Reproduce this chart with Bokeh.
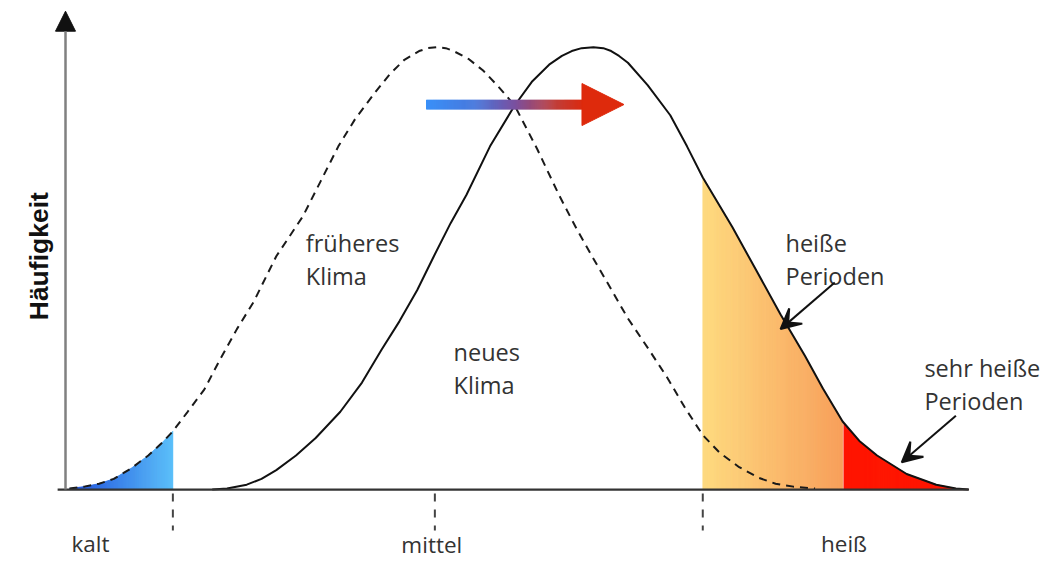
import numpy as np
from bokeh.plotting import figure
from bokeh.models import Range1d, Arrow, NormalHead, VeeHead, ColumnDataSource
from bokeh.core.properties import value
from bokeh.embed import file_html
from bokeh.resources import INLINE

# ---------------- data ----------------
# previous climate (dashed curve): temperature position -> frequency
old_x = [70, 85, 100, 115, 133, 150, 165, 175, 190, 207, 223, 240, 257, 280, 307, 325,
         343, 360, 380, 395, 410, 425, 434, 443, 452, 460, 475, 490, 505, 522, 545, 567, 585,
         600, 620, 637, 657, 677, 695, 713, 730, 750, 770, 787, 805, 827]
old_y = [1, 3, 6, 11, 22, 35, 49, 60, 80, 103, 134, 165, 193, 240, 281, 317,
         353, 381, 408, 427, 442, 451, 454, 455, 454, 451, 443, 431, 415, 395, 350, 303, 268,
         241, 206, 176, 146, 115, 84, 56, 38, 23, 12, 6, 3, 1]

# new climate (solid curve)
new_x = [215, 230, 250, 265, 280, 300, 320, 345, 367, 387, 405, 423, 440, 457, 473,
         497, 522, 540, 557, 570, 580, 590, 602, 612, 620, 628, 637, 657, 680, 697, 713,
         743, 767, 792, 817, 835, 855, 872, 890, 920, 950, 970, 983]
new_y = [0, 1, 5, 11, 20, 35, 53, 80, 110, 144, 173, 205, 240, 274, 303,
         353, 395, 420, 437, 446, 451, 454, 455, 454, 451, 446, 439, 416, 385, 353, 321,
         270, 226, 180, 137, 104, 70, 50, 35, 16, 5, 1, 0]

# class limits on the temperature axis
cold_limit = 175
mean_old = 441
hot_limit = 713
very_hot_limit = 855
tick_x = [cold_limit, mean_old, hot_limit]

bottom_labels = ["kalt", "mittel", "heiß"]
bottom_label_x = [72, 407, 833]
bottom_label_y = [-55, -57, -55]

curve_labels = ["früheres", "Klima", "neues", "Klima", "heiße", "Perioden", "sehr heiße", "Perioden"]
curve_label_x = [310, 310, 460, 460, 797, 797, 938, 938]
curve_label_y = [254, 220, 141, 108, 254, 220, 125, 91]

y_title = "Häufigkeit"

# shift arrow (old mean -> new mean) at this frequency level
shift_y = 396
shift_x0, shift_x1, shift_tip = 432, 595, 633

# ---------------- figure ----------------
W, H = 1047, 561
p = figure(width=W, height=H, x_range=Range1d(0, 1063), y_range=Range1d(503 - 577, 503),
           output_backend="svg", toolbar_location=None, min_border=0,
           min_border_left=0, min_border_right=0, min_border_top=0, min_border_bottom=0)
p.axis.visible = False
p.grid.visible = False
p.outline_line_color = None
p.background_fill_color = "white"
p.border_fill_color = "white"


def mix(stops, t):
    for (t0, c0), (t1, c1) in zip(stops[:-1], stops[1:]):
        if t <= t1:
            f = 0 if t1 == t0 else (t - t0) / (t1 - t0)
            c = [round(a + (b - a) * f) for a, b in zip(c0, c1)]
            return "#%02x%02x%02x" % tuple(c)
    return "#%02x%02x%02x" % tuple(stops[-1][1])


def gradient_fill(cx, cy, x0, x1, stops, step=1.0):
    xs = list(np.arange(x0, x1, step)) + [x1]
    pxs, pys, cols = [], [], []
    for a, b in zip(xs[:-1], xs[1:]):
        b2 = min(b + 0.6, x1)
        ha, hb = np.interp(a, cx, cy), np.interp(b2, cx, cy)
        pxs.append([a, a, b2, b2])
        pys.append([0, ha, hb, 0])
        cols.append(mix(stops, (a - x0) / (x1 - x0)))
    src = ColumnDataSource(dict(xs=pxs, ys=pys, c=cols))
    p.patches("xs", "ys", source=src, fill_color="c", line_color="c", line_width=0.6)


blue_stops = [(0, (32, 80, 220)), (1, (92, 192, 250))]
orange_stops = [(0, (254, 218, 128)), (1, (248, 160, 92))]
red_stops = [(0, (255, 22, 0)), (1, (255, 22, 0))]

gradient_fill(old_x, old_y, old_x[0], cold_limit, blue_stops)
gradient_fill(new_x, new_y, hot_limit, very_hot_limit, orange_stops)
gradient_fill(new_x, new_y, very_hot_limit + 1.2, new_x[-1], red_stops)

# curves
p.line(old_x, old_y, line_color="#1a1a1a", line_width=2, line_dash="8 6")
p.line(new_x, new_y, line_color="#111111", line_width=2)

# base line and y axis
p.segment(x0=[58], y0=[0], x1=[new_x[-1]], y1=[0], line_color="#333333", line_width=2.2)
p.add_layout(Arrow(x_start=66, y_start=0, x_end=66, y_end=492, line_color="#808080", line_width=2.5,
                   end=NormalHead(size=20, fill_color="#111111", line_color="#111111")))

# dashed ticks below base line
p.segment(x0=tick_x, y0=[-4] * 3, x1=tick_x, y1=[-42] * 3, line_color="#444444",
          line_width=2, line_dash="8 8")

# gradient shift arrow
shaft_stops = [(0, (58, 144, 248)), (0.3, (72, 120, 220)), (0.55, (122, 80, 160)),
               (0.8, (192, 62, 58)), (1, (222, 40, 10))]
sx = list(np.arange(shift_x0, shift_x1, 1.0))
p.quad(left=sx, right=[v + 1.6 for v in sx], bottom=[shift_y - 5] * len(sx), top=[shift_y + 5] * len(sx),
       fill_color=[mix(shaft_stops, (v - shift_x0) / (shift_x1 - shift_x0)) for v in sx], line_color=None)
p.add_layout(Arrow(x_start=shift_x1 - 4, y_start=shift_y, x_end=shift_tip, y_end=shift_y,
                   line_alpha=0, line_width=0,
                   end=NormalHead(size=42, fill_color="#de2a0c", line_color="#de2a0c", line_width=1)))

# pointer arrows for hot periods
p.add_layout(Arrow(x_start=847, y_start=213, x_end=792, y_end=165, line_color="#111111", line_width=2,
                   end=VeeHead(size=20, fill_color="#111111", line_color="#111111", line_width=2)))
p.add_layout(Arrow(x_start=970, y_start=76, x_end=915, y_end=28, line_color="#111111", line_width=2,
                   end=VeeHead(size=20, fill_color="#111111", line_color="#111111", line_width=2)))

# texts
p.text(x=curve_label_x, y=curve_label_y, text=curve_labels, text_font=value("Open Sans"),
       text_font_size="23.5px", text_color="#333333", text_align="left", text_baseline="alphabetic")
p.text(x=bottom_label_x, y=bottom_label_y, text=bottom_labels, text_font=value("Open Sans"),
       text_font_size="22.5px", text_color="#333333", text_align="left", text_baseline="alphabetic")
p.text(x=[39], y=[503 - 263], text=[y_title], angle=np.pi / 2, text_font=value("Liberation Sans"),
       text_font_style="bold", text_font_size="26.5px", text_color="#111111",
       text_align="center", text_baseline="middle")

open("out.html", "w").write(file_html(p, INLINE))
